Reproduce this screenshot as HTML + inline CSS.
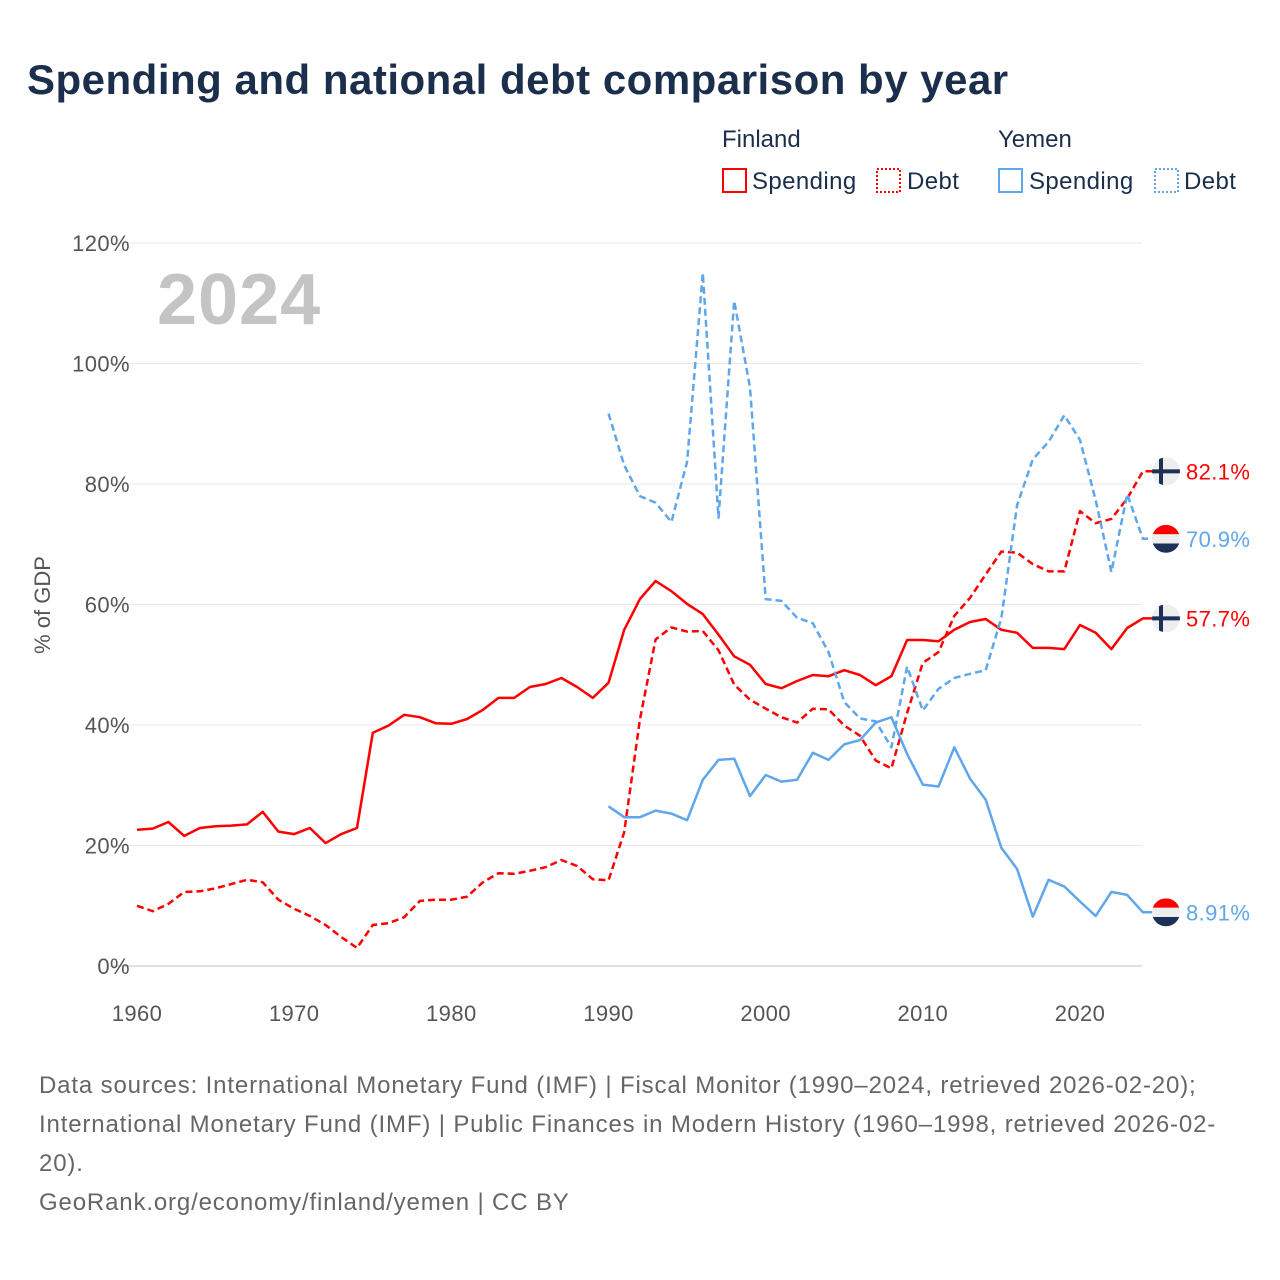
<!DOCTYPE html>
<html><head><meta charset="utf-8">
<style>
body{margin:0;background:#fff;width:1280px;height:1280px;overflow:hidden;font-family:"Liberation Sans",sans-serif}
svg{display:block}
</style></head>
<body>
<svg id="chart" width="1280" height="1280" viewBox="0 0 1280 1280">
<text x="27" y="94" font-size="42" font-weight="bold" fill="#1b2e4b" letter-spacing="0.5">Spending and national debt comparison by year</text>
<g font-size="24" fill="#1b2e4b">
<text x="722" y="147">Finland</text>
<text x="998" y="147">Yemen</text>
<g><rect x="723" y="169" width="23" height="23" fill="none" stroke="#ff0000" stroke-width="2"/><text x="752" y="189" letter-spacing="0.4">Spending</text></g>
<g><rect x="877" y="169" width="23" height="23" fill="none" stroke="#ff0000" stroke-width="2" stroke-dasharray="2,2"/><text x="907" y="189" letter-spacing="0.4">Debt</text></g>
<g><rect x="999" y="169" width="23" height="23" fill="none" stroke="#5fa6ea" stroke-width="2"/><text x="1029" y="189" letter-spacing="0.4">Spending</text></g>
<g><rect x="1155" y="169" width="23" height="23" fill="none" stroke="#5fa6ea" stroke-width="2" stroke-dasharray="2,2"/><text x="1184" y="189" letter-spacing="0.4">Debt</text></g>
</g>
<text x="157" y="324" font-size="72" font-weight="bold" fill="#c4c4c4" letter-spacing="1">2024</text>
<text transform="translate(50,605) rotate(-90)" text-anchor="middle" font-size="22" fill="#555">% of GDP</text>
<g id="grid"></g><g id="lines"></g><g id="ends"></g>
<g font-size="24" fill="#666" letter-spacing="0.85">
<text x="39" y="1093">Data sources: International Monetary Fund (IMF) | Fiscal Monitor (1990–2024, retrieved 2026-02-20);</text>
<text x="39" y="1132">International Monetary Fund (IMF) | Public Finances in Modern History (1960–1998, retrieved 2026-02-</text>
<text x="39" y="1171">20).</text>
<text x="39" y="1210">GeoRank.org/economy/finland/yemen | CC BY</text>
</g>
</svg>
<script>
const yTicks=[0,20,40,60,80,100,120];
const xTicks=[1960,1970,1980,1990,2000,2010,2020];
const finYears=[];for(let y=1960;y<=2024;y++)finYears.push(y);
const yemYears=[];for(let y=1990;y<=2024;y++)yemYears.push(y);
const finSpending=[22.6,22.8,23.9,21.6,22.9,23.2,23.3,23.5,25.6,22.3,21.9,22.9,20.4,21.9,22.9,38.7,39.9,41.7,41.3,40.3,40.2,41.0,42.5,44.5,44.5,46.3,46.8,47.8,46.3,44.5,47.0,55.8,60.9,63.9,62.2,60.1,58.4,55.0,51.4,50.0,46.8,46.1,47.3,48.3,48.1,49.1,48.3,46.6,48.1,54.1,54.1,53.9,55.8,57.1,57.6,55.8,55.3,52.8,52.8,52.6,56.6,55.3,52.6,56.1,57.7];
const finDebt=[10.0,9.1,10.3,12.3,12.4,12.9,13.6,14.3,13.9,11.0,9.5,8.3,6.8,4.8,3.0,6.8,7.1,8.1,10.8,11.0,11.0,11.5,13.9,15.4,15.3,15.8,16.4,17.6,16.6,14.4,14.2,22.2,40.9,54.2,56.2,55.5,55.6,52.4,46.7,44.2,42.7,41.3,40.4,42.7,42.6,39.9,38.2,34.1,32.8,42.0,50.3,52.1,58.1,61.1,65.0,68.8,68.6,66.7,65.5,65.5,75.5,73.5,74.2,77.6,82.1];
const yemSpending=[26.5,24.7,24.7,25.8,25.3,24.2,30.9,34.2,34.4,28.2,31.7,30.6,30.9,35.4,34.2,36.8,37.5,40.4,41.3,35.2,30.1,29.8,36.3,31.1,27.6,19.6,16.1,8.2,14.3,13.2,10.7,8.3,12.3,11.8,8.91];
const yemDebt=[91.7,83.1,78.0,76.9,73.7,83.7,115.0,74.4,110.4,96.0,60.9,60.6,57.8,56.9,52.1,43.8,41.1,40.6,36.3,49.7,42.4,46.0,47.8,48.5,49.1,57.8,76.5,84.1,87.0,91.4,87.3,77.3,65.4,78.3,70.9];
const endLabels=["82.1%","70.9%","57.7%","8.91%"];

const NS="http://www.w3.org/2000/svg";
const x=yr=>137+(yr-1960)*(1080-137)/60;
const y=v=>966-v*(966-243)/120;
function mk(tag,attrs,parent){const e=document.createElementNS(NS,tag);for(const k in attrs)e.setAttribute(k,attrs[k]);parent.appendChild(e);return e;}
const grid=document.getElementById('grid');
yTicks.forEach(t=>{
  const l=mk('line',{x1:110,x2:1142,y1:y(t),y2:y(t),stroke:t===0?'#e0e0e0':'#e8e8e8','stroke-width':t===0?2:1},grid);
  
  
  const tx=mk('text',{x:130,y:y(t)+8,'text-anchor':'end','font-size':22,fill:'#555','letter-spacing':0.4},grid);
  tx.textContent=t+'%';
  
  
});
xTicks.forEach(t=>{
  const tx=mk('text',{x:x(t),y:1021,'text-anchor':'middle','font-size':22,fill:'#555','letter-spacing':0.4},grid);
  tx.textContent=t;
  
  
});
const lines=document.getElementById('lines');
function series(years,vals,color,dash,name){
  let d=vals.map((v,i)=>(i?'L':'M')+x(years[i]).toFixed(1)+','+y(v).toFixed(1)).join(' ');
  d+=' L1154,'+y(vals[vals.length-1]).toFixed(1);
  const p=mk('path',{d:d,fill:'none',stroke:color,'stroke-width':2.5,'stroke-linejoin':'round'},lines);
  if(dash)p.setAttribute('stroke-dasharray','7,4');
  
  
}
series(finYears,finSpending,'#ff0000',false,'finland-spending-line');
series(finYears,finDebt,'#ff0000',true,'finland-debt-line');
series(yemYears,yemSpending,'#5fa6ea',false,'yemen-spending-line');
series(yemYears,yemDebt,'#5fa6ea',true,'yemen-debt-line');

const ends=document.getElementById('ends');
function flag(kind,v,label,color,name){
  const cy=y(v),cx=1166,r=14;
  const g=mk('g',{},ends);
  
  
  const id='c'+Math.round(cy);
  const cp=mk('clipPath',{id:id},g);mk('circle',{cx:cx,cy:cy,r:r},cp);
  const f=mk('g',{'clip-path':'url(#'+id+')'},g);
  if(kind==='fi'){
    mk('rect',{x:cx-r,y:cy-r,width:2*r,height:2*r,fill:'#eeeeee'},f);
    mk('rect',{x:cx-r,y:cy-2,width:2*r,height:4,fill:'#1b3158'},f);
    mk('rect',{x:cx-7,y:cy-r,width:4,height:2*r,fill:'#1b3158'},f);
  }else{
    mk('rect',{x:cx-r,y:cy-r,width:2*r,height:2*r/3+0.5,fill:'#ff0000'},f);
    mk('rect',{x:cx-r,y:cy-r/3,width:2*r,height:2*r/3+0.5,fill:'#eeeeee'},f);
    mk('rect',{x:cx-r,y:cy+r/3,width:2*r,height:2*r/3,fill:'#1b3158'},f);
  }
  const t=mk('text',{x:1186,y:cy+8,'font-size':22,fill:color,'letter-spacing':0.4},g);
  t.textContent=label;
}
flag('fi',finDebt[finDebt.length-1],endLabels[0],'#ff0000','finland-debt-end-label');
flag('ye',yemDebt[yemDebt.length-1],endLabels[1],'#5fa6ea','yemen-debt-end-label');
flag('fi',finSpending[finSpending.length-1],endLabels[2],'#ff0000','finland-spending-end-label');
flag('ye',yemSpending[yemSpending.length-1],endLabels[3],'#5fa6ea','yemen-spending-end-label');
</script>
</body></html>
